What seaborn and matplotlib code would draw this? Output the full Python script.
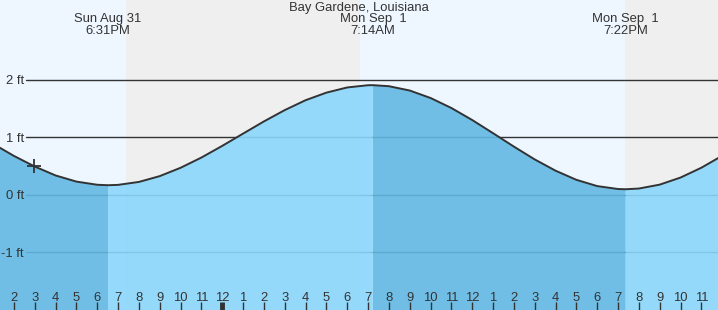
import numpy as np
import pandas as pd
import matplotlib
matplotlib.use("Agg")
import matplotlib.pyplot as plt
import seaborn as sns

# ---- data (hours relative to midnight, Mon Sep 1) ----
station = "Bay Gardene, Louisiana"
hours = list(range(-11, 25))
heights = [0.89, 0.68, 0.495, 0.34, 0.233, 0.178, 0.176, 0.227, 0.328, 0.473,
           0.651, 0.854, 1.067, 1.279, 1.476, 1.648, 1.78, 1.87, 1.909, 1.892,
           1.817, 1.687, 1.513, 1.304, 1.075, 0.842, 0.619, 0.423, 0.264, 0.155,
           0.104, 0.112, 0.18, 0.303, 0.474, 0.682]
tide_hours = [-5.48, 7.23, 19.37]
tide_heights = [0.17, 1.91, 0.10]
tide_types = ["L", "H", "L"]
tide_days = ["Sun Aug 31", "Mon Sep  1", "Mon Sep  1"]
tide_times = ["6:31PM", "7:14AM", "7:22PM"]
sun_hours = [-4.62, 6.62, 19.34]          # sunset, sunrise, sunset
now_hour, now_height = -9.03, 0.50
tick_hours = list(range(-10, 24))
tick_labels = [str((h - 1) % 12 + 1) for h in tick_hours]
ytick_vals = [2, 1, 0, -1]
ytick_labels = ["2 ft", "1 ft", "0 ft", "-1 ft"]

sns.set_style("white")
plt.rcParams["font.family"] = ["Liberation Sans", "DejaVu Sans"]

df = pd.DataFrame({"h": hours + tide_hours, "ft": heights + tide_heights})
df = df.sort_values("h").reset_index(drop=True)

fig = plt.figure(figsize=(7.18, 3.10), dpi=100)
ax = fig.add_axes([0, 0, 1, 1])
x0, x1 = -10.667, 23.80
ax.set_xlim(x0, x1)
ax.set_ylim(-2.0, 3.391)

day_c, night_c = "#eef6ff", "#efefef"
edges = [x0] + sun_hours + [x1]
for i in range(len(edges) - 1):
    ax.axvspan(edges[i], edges[i + 1], color=day_c if i % 2 == 0 else night_c,
               lw=0, zorder=0)

# grid lines
for v in ytick_vals:
    ax.axhline(v, xmin=26 / 718, xmax=1, color="#333333", lw=1, zorder=1)

# water fill: falling tide darker, rising tide lighter
h = df["h"].values
f = df["ft"].values
falling = (h <= tide_hours[0]) | ((h >= tide_hours[1]) & (h <= tide_hours[2]))
rising = ~falling | np.isin(h, tide_hours)
ax.fill_between(h, -2.5, f, where=falling, color="#62b8e3", alpha=0.9, lw=0, zorder=2)
ax.fill_between(h, -2.5, f, where=rising, color="#8bd7fc", alpha=0.9, lw=0, zorder=2)

sns.lineplot(data=df, x="h", y="ft", ax=ax, color="#333333", lw=1.4, zorder=3)
ax.plot([now_hour], [now_height], marker="+", ms=10, mew=1.3, color="#333333", zorder=4)

txt = "#333333"
fs = 9.4
ax.text(0.5, 1 - 8 / 310, station, transform=ax.transAxes, ha="center", va="center",
        fontsize=fs, color=txt)
for th, d, t in zip(tide_hours, tide_days, tide_times):
    ax.text(th, 1 - 19 / 310, d, transform=ax.get_xaxis_transform(), ha="center",
            va="center", fontsize=fs, color=txt)
    ax.text(th, 1 - 31 / 310, t, transform=ax.get_xaxis_transform(), ha="center",
            va="center", fontsize=fs, color=txt)

ax.set_axisbelow(False)
ax.set_yticks(ytick_vals)
ax.set_yticklabels(ytick_labels)
ax.tick_params(axis="y", left=True, direction="in", length=0, pad=-24 / 1.389,
               labelsize=fs, labelcolor=txt)
ax.set_xticks(tick_hours)
ax.set_xticklabels(tick_labels)
ax.tick_params(axis="x", bottom=True, direction="in", length=8 / 1.389, width=1,
               color="#333333", pad=-18 / 1.389, labelsize=fs, labelcolor=txt)
for tk, th in zip(ax.xaxis.get_major_ticks(), tick_hours):
    if th == 0:
        tk.tick1line.set_markeredgewidth(3.5)
ax.xaxis.set_zorder(5)
ax.yaxis.set_zorder(5)
ax.set_xlabel("")
ax.set_ylabel("")
for s in ax.spines.values():
    s.set_visible(False)

fig.savefig("out.png", dpi=100)
